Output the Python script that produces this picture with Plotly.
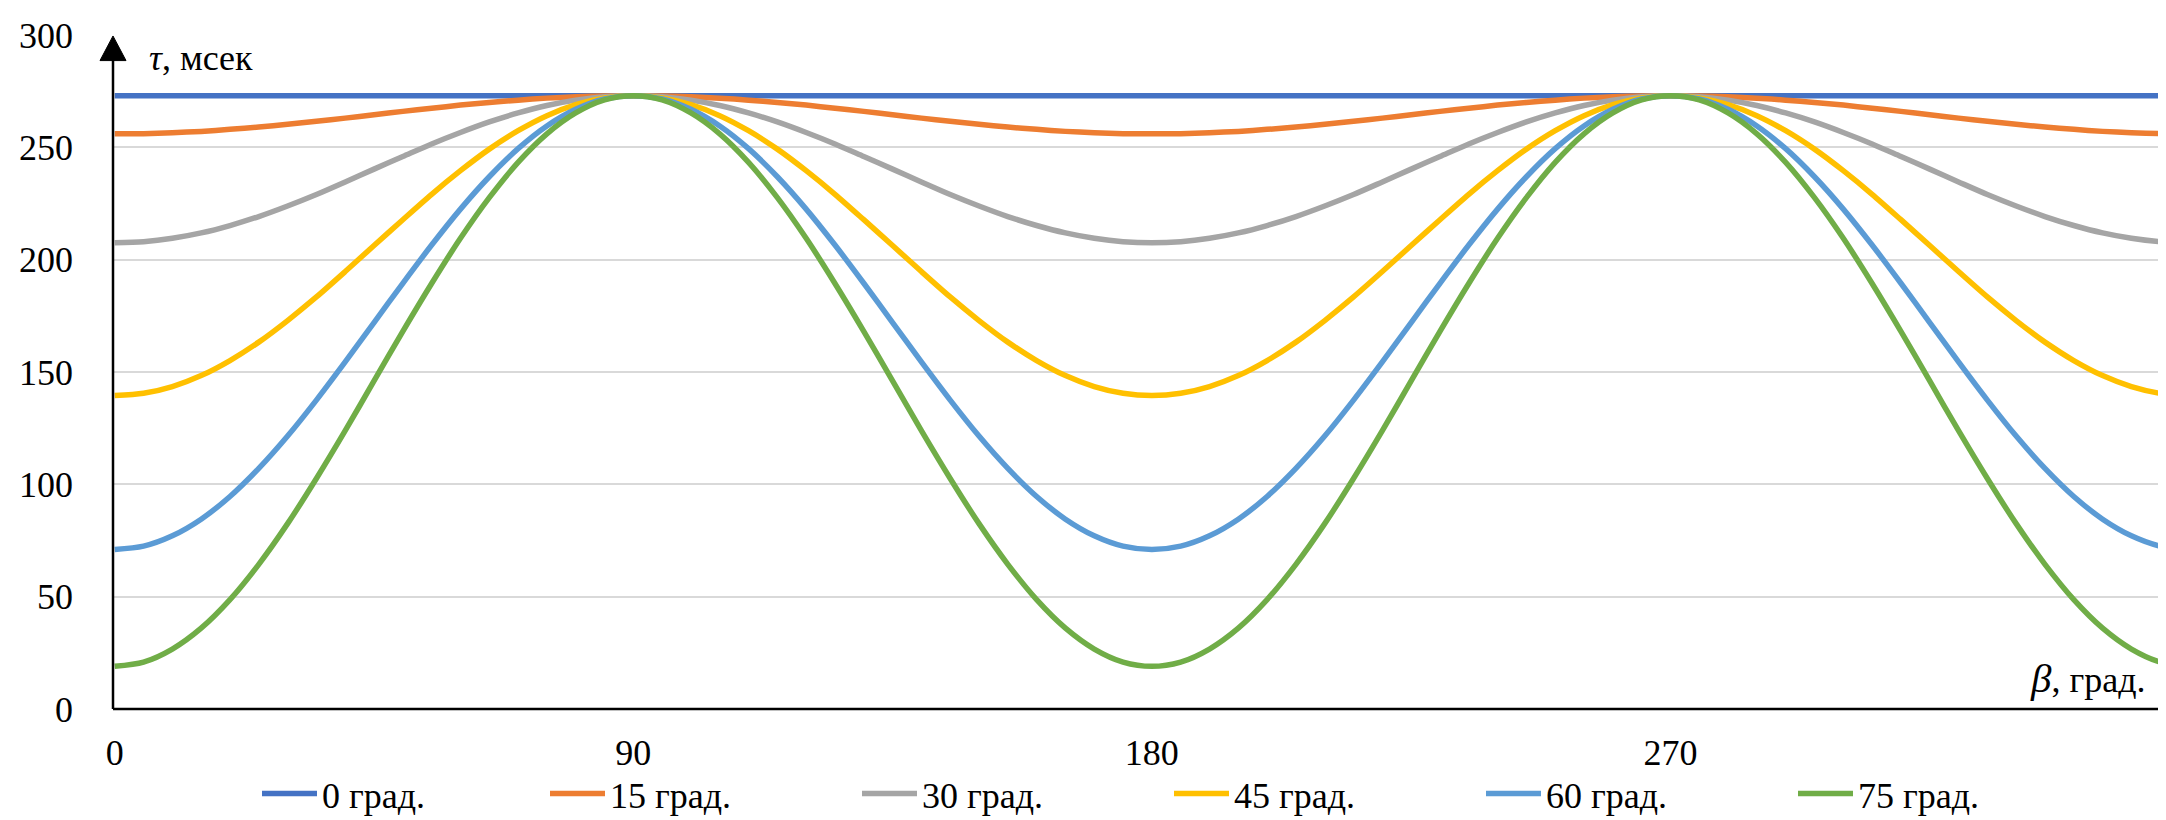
import plotly.graph_objects as go

# ---- data (tau in msec vs beta in degrees, 5 degree steps) ----
beta = list(range(0, 365, 5))

tau_0 = [273] * 73
tau_15 = [256, 256.1, 256.5, 257.1, 258.0, 259.0, 260.3, 261.6, 263.0, 264.5, 266.0, 267.4, 268.8, 270.0, 271.0, 271.9, 272.5, 272.9, 273,
          272.9, 272.5, 271.9, 271.0, 270.0, 268.8, 267.4, 266.0, 264.5, 263.0, 261.6, 260.3, 259.0, 258.0, 257.1, 256.5, 256.1, 256,
          256.1, 256.5, 257.1, 258.0, 259.0, 260.3, 261.6, 263.0, 264.5, 266.0, 267.4, 268.8, 270.0, 271.0, 271.9, 272.5, 272.9, 273,
          272.9, 272.5, 271.9, 271.0, 270.0, 268.8, 267.4, 266.0, 264.5, 263.0, 261.6, 260.3, 259.0, 258.0, 257.1, 256.5, 256.1, 256]
tau_30 = [207.5, 208.0, 209.5, 211.9, 215.2, 219.2, 223.9, 229.0, 234.6, 240.3, 245.9, 251.5, 256.6, 261.3, 265.3, 268.6, 271.0, 272.5, 273,
          272.5, 271.0, 268.6, 265.3, 261.3, 256.6, 251.5, 245.9, 240.3, 234.6, 229.0, 223.9, 219.2, 215.2, 211.9, 209.5, 208.0, 207.5,
          208.0, 209.5, 211.9, 215.2, 219.2, 223.9, 229.0, 234.6, 240.3, 245.9, 251.5, 256.6, 261.3, 265.3, 268.6, 271.0, 272.5, 273,
          272.5, 271.0, 268.6, 265.3, 261.3, 256.6, 251.5, 245.9, 240.3, 234.6, 229.0, 223.9, 219.2, 215.2, 211.9, 209.5, 208.0, 207.5]
tau_45 = [139.5, 140.5, 143.5, 148.4, 155.1, 163.3, 172.9, 183.4, 194.7, 206.3, 217.8, 229.1, 239.6, 249.2, 257.4, 264.1, 269.0, 272.0, 273,
          272.0, 269.0, 264.1, 257.4, 249.2, 239.6, 229.1, 217.8, 206.3, 194.7, 183.4, 172.9, 163.3, 155.1, 148.4, 143.5, 140.5, 139.5,
          140.5, 143.5, 148.4, 155.1, 163.3, 172.9, 183.4, 194.7, 206.3, 217.8, 229.1, 239.6, 249.2, 257.4, 264.1, 269.0, 272.0, 273,
          272.0, 269.0, 264.1, 257.4, 249.2, 239.6, 229.1, 217.8, 206.3, 194.7, 183.4, 172.9, 163.3, 155.1, 148.4, 143.5, 140.5, 139.5]
tau_60 = [71, 72.5, 77.1, 84.5, 94.6, 107.1, 121.5, 137.5, 154.5, 172.0, 189.5, 206.5, 222.5, 236.9, 249.4, 259.5, 266.9, 271.5, 273,
          271.5, 266.9, 259.5, 249.4, 236.9, 222.5, 206.5, 189.5, 172.0, 154.5, 137.5, 121.5, 107.1, 94.6, 84.5, 77.1, 72.5, 71,
          72.5, 77.1, 84.5, 94.6, 107.1, 121.5, 137.5, 154.5, 172.0, 189.5, 206.5, 222.5, 236.9, 249.4, 259.5, 266.9, 271.5, 273,
          271.5, 266.9, 259.5, 249.4, 236.9, 222.5, 206.5, 189.5, 172.0, 154.5, 137.5, 121.5, 107.1, 94.6, 84.5, 77.1, 72.5, 71]
tau_75 = [19, 20.9, 26.7, 36.0, 48.7, 64.4, 82.5, 102.6, 123.9, 146.0, 168.1, 189.4, 209.5, 227.6, 243.3, 256.0, 265.3, 271.1, 273,
          271.1, 265.3, 256.0, 243.3, 227.6, 209.5, 189.4, 168.1, 146.0, 123.9, 102.6, 82.5, 64.4, 48.7, 36.0, 26.7, 20.9, 19,
          20.9, 26.7, 36.0, 48.7, 64.4, 82.5, 102.6, 123.9, 146.0, 168.1, 189.4, 209.5, 227.6, 243.3, 256.0, 265.3, 271.1, 273,
          271.1, 265.3, 256.0, 243.3, 227.6, 209.5, 189.4, 168.1, 146.0, 123.9, 102.6, 82.5, 64.4, 48.7, 36.0, 26.7, 20.9, 19]

series_names = ["0 град.", "15 град.", "30 град.", "45 град.", "60 град.", "75 град."]
series_values = [tau_0, tau_15, tau_30, tau_45, tau_60, tau_75]
colors = ["#4472C4", "#ED7D31", "#A5A5A5", "#FFC000", "#5B9BD5", "#70AD47"]

x_ticks = [0, 90, 180, 270]
y_ticks = [0, 50, 100, 150, 200, 250, 300]

# ---- layout geometry (pixels) ----
W, H = 2166, 820
L, R, T, B = 105, 2162, 27, 712
FONT = "Liberation Serif"
FS = 36


def px(x):
    return (x - L) / (R - L)


def py(y):
    return (B - y) / (B - T)


fig = go.Figure()
for i, (name, vals, col) in enumerate(zip(series_names, series_values, colors)):
    fig.add_trace(go.Scatter(
        x=beta, y=vals, name=name, mode="lines",
        line=dict(color=col, width=5.5, shape="spline", smoothing=0.8),
        hoverinfo="skip",
        legend="legend" if i == 0 else "legend2",
    ))

shapes = [
    # y axis line + arrow
    dict(type="line", xref="paper", yref="paper", x0=px(105), x1=px(105), y0=py(712), y1=py(50),
         line=dict(color="black", width=2.5)),
    dict(type="path", xref="paper", yref="paper",
         path=f"M {px(92)},{py(53)} L {px(105)},{py(28)} L {px(118)},{py(53)} Z",
         fillcolor="black", line=dict(color="black", width=1)),
    # x axis line + arrow
    dict(type="line", xref="paper", yref="paper", x0=px(105), x1=px(2156), y0=py(712), y1=py(712),
         line=dict(color="black", width=2.5)),
    dict(type="path", xref="paper", yref="paper",
         path=f"M {px(2153)},{py(699.5)} L {px(2179)},{py(712)} L {px(2153)},{py(724.5)} Z",
         fillcolor="black", line=dict(color="black", width=1)),
]

annotations = [
    dict(text="<i>τ</i>, мсек", xref="paper", yref="paper", x=px(139), y=py(50),
         xanchor="left", yanchor="middle", showarrow=False,
         font=dict(family=FONT, size=FS, color="black")),
    dict(text="<i><span style='font-size:41px'>β</span></i>, град.", xref="paper", yref="paper",
         x=px(2139), y=py(680),
         xanchor="right", yanchor="middle", showarrow=False,
         font=dict(family=FONT, size=FS, color="black")),
]

legend_common = dict(orientation="h", y=py(798), yanchor="middle",
                     font=dict(family=FONT, size=FS, color="black"),
                     entrywidth=242, entrywidthmode="pixels", itemwidth=55,
                     bgcolor="rgba(0,0,0,0)")

fig.update_layout(
    width=W, height=H,
    margin=dict(l=L, r=W - R, t=T, b=H - B, pad=0),
    paper_bgcolor="white", plot_bgcolor="white",
    font=dict(family=FONT, size=FS, color="black"),
    showlegend=True,
    legend=dict(x=px(249), xanchor="left", **legend_common),
    legend2=dict(x=px(1317), xanchor="center", **legend_common),
    shapes=shapes,
    annotations=annotations,
    hovermode=False,
)

fig.update_xaxes(range=[-0.3, 356.7], tickmode="array", tickvals=x_ticks,
                 ticktext=[str(v) for v in x_ticks], showgrid=False, zeroline=False,
                 showline=False, ticks="", ticklabelstandoff=19,
                 tickfont=dict(family=FONT, size=FS, color="black"))
fig.update_yaxes(range=[0, 300], tickmode="array", tickvals=y_ticks,
                 ticktext=[str(v) for v in y_ticks], showgrid=True, gridcolor="#D9D9D9",
                 gridwidth=2, zeroline=False, showline=False, ticks="",
                 ticklabelstandoff=39,
                 tickfont=dict(family=FONT, size=FS, color="black"))

fig.write_html("out.html")
